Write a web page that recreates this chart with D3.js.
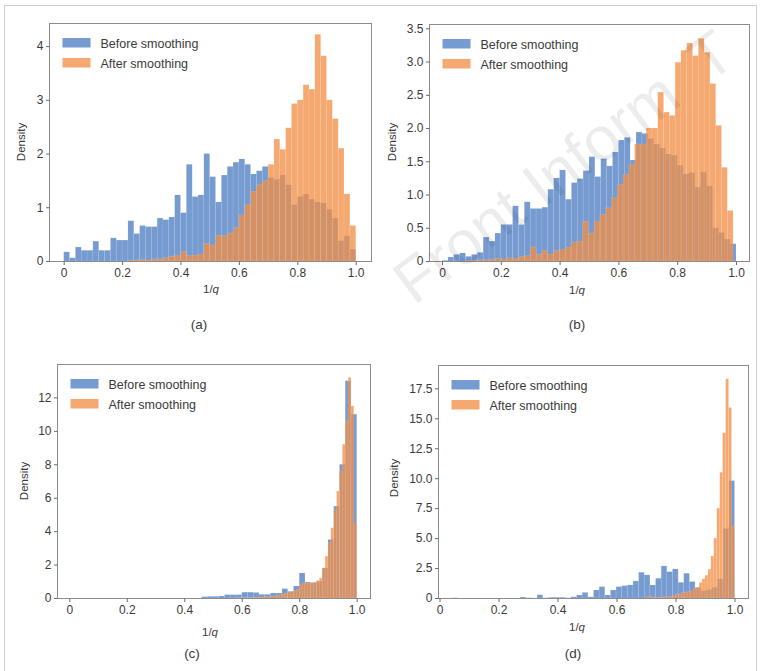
<!DOCTYPE html>
<html>
<head>
<meta charset="utf-8">
<script src="https://cdn.jsdelivr.net/npm/d3@7"></script>
<style>
  html, body { margin: 0; padding: 0; background: #ffffff; }
  svg { display: block; }
  text { font-family: "Liberation Sans", Arial, sans-serif; }
</style>
</head>
<body>
<svg id="chart" width="761" height="671"></svg>
<script>
// ---------------- data ----------------
const seriesNames = ["Before smoothing", "After smoothing"];
const panelTags = ["(a)", "(b)", "(c)", "(d)"];
const xTicks = [0, 0.2, 0.4, 0.6, 0.8, 1.0];
const xTickLabels = ["0", "0.2", "0.4", "0.6", "0.8", "1.0"];

// panel (a)
const aBeforeRange = [0, 1];
const aBefore = [0.17,0.06,0.26,0.2,0.2,0.37,0.2,0.2,0.43,0.39,
  0.39,0.75,0.51,0.66,0.64,0.64,0.8,0.77,0.82,1.23,
  0.9,1.8,1.2,1.23,2.0,1.57,1.1,1.6,1.76,1.84,
  1.9,1.8,1.62,1.68,1.76,1.55,1.52,1.6,1.42,1.05,
  1.2,1.25,1.15,1.1,1.08,0.96,0.8,0.38,0.47,0.22];
const aAfterRange = [0, 1];
const aAfter = [0,0,0,0,0,0,0,0,0,0,
  0,0.01,0.02,0.03,0.02,0.04,0.04,0.06,0.09,0.1,
  0.18,0.1,0.11,0.13,0.33,0.3,0.48,0.47,0.52,0.62,
  0.86,1.05,1.3,1.42,1.5,1.8,2.27,2.08,2.48,2.93,
  3.0,3.28,3.2,4.22,3.82,3.0,2.65,2.1,1.25,0.66];
const aYTicks = [0, 1, 2, 3, 4];
const aYTickLabels = ["0", "1", "2", "3", "4"];

// panel (b)
const bBeforeRange = [0, 1];
const bBefore = [0.01,0.06,0.1,0.12,0.07,0.1,0.13,0.36,0.3,0.42,
  0.55,0.55,0.83,0.55,0.89,0.79,0.79,0.81,1.08,1.25,
  1.37,0.93,1.18,1.24,1.36,1.57,1.27,1.54,1.43,1.64,
  1.82,1.86,1.52,1.94,1.92,1.84,1.76,1.7,1.61,1.59,
  1.44,1.31,1.33,1.11,1.34,1.13,0.5,0.43,0.33,0.26];
const bAfterRange = [0.005, 0.99];
const bAfter = [0,0,0,0,0.01,0.01,0.02,0.02,0.03,0.04,
  0.03,0.05,0.04,0.07,0.08,0.21,0.1,0.16,0.1,0.16,
  0.17,0.21,0.28,0.3,0.6,0.42,0.6,0.7,0.8,0.95,
  1.15,1.3,1.45,1.76,1.76,2.0,2.0,2.54,2.24,2.19,
  2.99,3.17,3.28,3.09,3.35,3.14,2.67,2.04,1.41,0.76];
const bYTicks = [0, 0.5, 1.0, 1.5, 2.0, 2.5, 3.0, 3.5];
const bYTickLabels = ["0", "0.5", "1.0", "1.5", "2.0", "2.5", "3.0", "3.5"];

// panel (c)
const cBeforeRange = [0, 1];
const cBefore = [0,0,0,0,0,0,0,0,0,0,
  0,0,0,0,0,0,0,0,0,0,
  0,0,0,0.08,0.1,0.1,0.12,0.2,0.2,0.2,
  0.35,0.35,0.33,0.22,0.22,0.3,0.3,0.56,0.4,0.72,
  1.5,0.96,0.92,1.0,1.8,3.5,5.5,8.0,13.0,11.0];
const cAfterRange = [0.5, 1.0];
const cAfter = [0,0,0,0,0,0.01,0.01,0.01,0.02,0.02,
  0.02,0.02,0.03,0.03,0.04,0.05,0.05,0.06,0.08,0.08,
  0.1,0.12,0.15,0.2,0.25,0.3,0.35,0.4,0.45,0.5,
  0.8,0.9,0.95,0.9,0.9,0.95,1.05,1.2,1.8,2.5,
  3.3,4.2,5.3,6.4,7.6,9.2,10.6,13.2,11.5,4.45];
const cYTicks = [0, 2, 4, 6, 8, 10, 12];
const cYTickLabels = ["0", "2", "4", "6", "8", "10", "12"];

// panel (d)
const dBeforeRange = [0.044, 1.0];
const dBefore = [0.02,0,0,0,0,0,0,0,0,0,
  0,0,0.08,0.02,0,0.28,0.02,0.06,0.06,0.06,
  0.02,0.1,0.25,0.47,0.1,0.67,0.95,0.25,0.67,0.95,
  1.03,1.09,1.42,2.15,1.93,1.09,1.65,2.68,2.2,2.43,
  1.31,2.07,1.37,0.87,0.6,0.7,0.9,1.6,5.8,9.8];
const dAfterRange = [0.5, 1.0];
const dAfter = [0,0,0,0,0,0,0,0,0,0,
  0,0,0,0,0,0,0,0,0,0,
  0.1,0.15,0.05,0.05,0.08,0.05,0.1,0.1,0.15,0.2,
  0.35,0.3,0.45,0.5,0.55,0.6,0.8,0.9,1.3,1.6,
  1.9,2.4,3.5,5.0,7.5,10.5,13.8,18.3,15.9,6.0];
const dYTicks = [0, 2.5, 5.0, 7.5, 10.0, 12.5, 15.0, 17.5];
const dYTickLabels = ["0", "2.5", "5.0", "7.5", "10.0", "12.5", "15.0", "17.5"];

// ---------------- layout (positions only) ----------------
const layout = [
  {l:49,  r:371, t:23,  b:261, x0:63.7,  x1:355.7, yTop:4.43,  yLabX:22,  yLabY:142, xLabX:211, xLabY:293, tagX:199, tagY:329},
  {l:429, r:749, t:24,  b:261, x0:442,   x1:736,   yTop:3.565, yLabX:393, yLabY:142, xLabX:577, xLabY:294, tagX:577, tagY:329},
  {l:57,  r:370, t:364, b:598, x0:69.3,  x1:356.7, yTop:14.0,  yLabX:25,  yLabY:481, xLabX:210, xLabY:636, tagX:192, tagY:658},
  {l:438, r:748, t:365, b:598, x0:439.5, x1:734.5, yTop:19.45, yLabX:395, yLabY:478, xLabX:577, xLabY:631, tagX:573, tagY:658}
];

const panelData = [
  {before: aBefore, beforeRange: aBeforeRange, after: aAfter, afterRange: aAfterRange, yTicks: aYTicks, yLabels: aYTickLabels},
  {before: bBefore, beforeRange: bBeforeRange, after: bAfter, afterRange: bAfterRange, yTicks: bYTicks, yLabels: bYTickLabels},
  {before: cBefore, beforeRange: cBeforeRange, after: cAfter, afterRange: cAfterRange, yTicks: cYTicks, yLabels: cYTickLabels},
  {before: dBefore, beforeRange: dBeforeRange, after: dAfter, afterRange: dAfterRange, yTicks: dYTicks, yLabels: dYTickLabels}
];

const blue = "#4f7fc4", blueOp = 0.78;
const orange = "#f28e44", orangeOp = 0.76;
const textCol = "#3a3a3a";

const svg = d3.select("#chart");

// outer figure frame
svg.append("rect").attr("x", 4.5).attr("y", 5.5).attr("width", 752).attr("height", 700)
  .attr("fill", "none").attr("stroke", "#cfcfcf").attr("stroke-width", 1);

function drawHist(g, x, y, values, range, color, op) {
  const n = values.length;
  const w = (range[1] - range[0]) / n;
  const bins = values.map((v, i) => ({x0: range[0] + i * w, x1: range[0] + (i + 1) * w, v}));
  g.append("g").selectAll("rect").data(bins).join("rect")
    .attr("x", d => x(d.x0))
    .attr("width", d => Math.max(0, x(d.x1) - x(d.x0)))
    .attr("y", d => y(d.v))
    .attr("height", d => y(0) - y(d.v))
    .attr("fill", color).attr("fill-opacity", op)
    .attr("stroke", "#ffffff").attr("stroke-opacity", 0.2).attr("stroke-width", 0.5);
}

layout.forEach((L, k) => {
  const P = panelData[k];
  const g = svg.append("g");
  const x = d3.scaleLinear().domain([0, 1]).range([L.x0, L.x1]);
  const y = d3.scaleLinear().domain([0, L.yTop]).range([L.b, L.t]);

  drawHist(g, x, y, P.before, P.beforeRange, blue, blueOp);
  drawHist(g, x, y, P.after, P.afterRange, orange, orangeOp);

  // frame
  g.append("rect").attr("x", L.l + 0.5).attr("y", L.t + 0.5)
    .attr("width", L.r - L.l).attr("height", L.b - L.t)
    .attr("fill", "none").attr("stroke", "#8c8c8c").attr("stroke-width", 1);

  // axes
  const ya = g.append("g").attr("transform", `translate(${L.l + 0.5},0)`)
    .call(d3.axisLeft(y).tickValues(P.yTicks).tickFormat((d, i) => P.yLabels[i]).tickSize(3.5).tickPadding(2.5));
  const xa = g.append("g").attr("transform", `translate(0,${L.b + 0.5})`)
    .call(d3.axisBottom(x).tickValues(xTicks).tickFormat((d, i) => xTickLabels[i]).tickSize(3.5).tickPadding(3));
  [ya, xa].forEach(a => {
    a.select(".domain").remove();
    a.selectAll(".tick line").attr("stroke", "#6a6a6a");
    a.selectAll(".tick text").attr("fill", textCol).attr("font-size", 12)
      .attr("font-family", "'Liberation Sans', Arial, sans-serif");
  });

  // axis labels
  g.append("text").attr("transform", `translate(${L.yLabX},${L.yLabY}) rotate(-90)`)
    .attr("text-anchor", "middle").attr("dominant-baseline", "middle")
    .attr("font-size", 11.5).attr("fill", textCol).text("Density");
  const xl = g.append("text").attr("x", L.xLabX).attr("y", L.xLabY)
    .attr("text-anchor", "middle").attr("font-size", 11.5).attr("fill", textCol);
  xl.append("tspan").text("1/");
  xl.append("tspan").attr("font-style", "italic").text("q");

  // panel tag
  g.append("text").attr("x", L.tagX).attr("y", L.tagY).attr("text-anchor", "middle")
    .attr("font-size", 13.5).attr("fill", textCol).text(panelTags[k]);

  // legend
  const lx = L.l + 13.5, ly = L.t + 15;
  [[blue, blueOp], [orange, orangeOp]].forEach((c, i) => {
    g.append("rect").attr("x", lx).attr("y", ly + i * 20).attr("width", 28).attr("height", 9.5)
      .attr("fill", c[0]).attr("fill-opacity", c[1]);
    g.append("text").attr("x", lx + 38).attr("y", ly + i * 20 + 9.5)
      .attr("font-size", 12.5).attr("fill", textCol).text(seriesNames[i]);
  });
});

// watermark (drawn semi-transparent on top, as in the reference)
svg.append("text")
  .attr("transform", "translate(414,306) rotate(-37)")
  .attr("font-family", "'Open Sans', 'Liberation Sans', sans-serif")
  .attr("font-weight", 300)
  .attr("font-size", 62)
  .attr("fill", "#000000").attr("fill-opacity", 0.075)
  .text("Front Inform\u2002T");
</script>
</body>
</html>
